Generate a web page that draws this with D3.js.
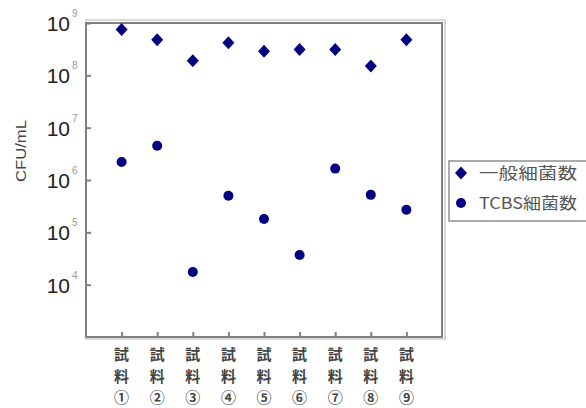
<!DOCTYPE html>
<html><head><meta charset="utf-8">
<script src="https://cdn.jsdelivr.net/npm/d3@7"></script>
<style>body{margin:0;background:#fff}svg{display:block}</style>
</head><body>
<svg id="c" width="586" height="408"></svg>
<script>
const categories = ["①","②","③","④","⑤","⑥","⑦","⑧","⑨"];
const seriesNames = ["一般細菌数","TCBS細菌数"];
const general = [7.5e8,4.8e8,1.9e8,4.2e8,2.9e8,3.1e8,3.1e8,1.5e8,4.8e8];
const tcbs = [2.2e6,4.5e6,1.75e4,5.0e5,1.8e5,3.7e4,1.65e6,5.2e5,2.7e5];
const yTickExp = [4,5,6,7,8,9];

const svg = d3.select("#c");
const L=86, R=442, T=23, B=337;
const navy="#000080", grey="#808080";
const cjk = "'Noto Sans CJK JP','Noto Sans',sans-serif";
const latin = "'Liberation Sans',Arial,sans-serif";

const x = d3.scaleLinear().domain([0,categories.length+1]).range([L,R]);
const y = d3.scaleLog().domain([1e3,1e9]).range([B,T]);

// frame shadow
svg.append("rect").attr("x",L).attr("y",T-3).attr("width",R-L+3).attr("height",B-T+5)
  .attr("fill","none").attr("stroke","#d8d8d8").attr("stroke-width",2);
svg.append("rect").attr("x",L).attr("y",T).attr("width",R-L).attr("height",B-T)
  .attr("fill","#fff").attr("stroke",grey).attr("stroke-width",2);

// y axis ticks (inward)
const yAxis = d3.axisRight(y).tickValues(yTickExp.map(e=>Math.pow(10,e))).tickSize(5).tickFormat("");
const gy = svg.append("g").attr("transform",`translate(${L},0)`).call(yAxis);
gy.select(".domain").remove();
gy.selectAll("line").attr("stroke",grey).attr("stroke-width",2);

// y labels
const yl = svg.append("g");
yTickExp.forEach(e=>{
  yl.append("text").attr("x",70).attr("y",y(Math.pow(10,e))+8)
    .attr("text-anchor","end").attr("font-family",latin)
    .attr("font-size",21).attr("fill","#222").text("10");
  yl.append("text").attr("x",72).attr("y",y(Math.pow(10,e))-6)
    .attr("font-family",latin)
    .attr("font-size",10).attr("fill","#999").text(e);
});

// x axis ticks (inward)
const xAxis = d3.axisTop(x).tickValues(d3.range(1,categories.length+1)).tickSize(5).tickFormat("");
const gx = svg.append("g").attr("transform",`translate(0,${B})`).call(xAxis);
gx.select(".domain").remove();
gx.selectAll("line").attr("stroke",grey).attr("stroke-width",2);

// x labels
categories.forEach((c,i)=>{
  const g = svg.append("g").attr("font-family",cjk).attr("font-size",15).attr("font-weight","bold").attr("fill","#444").attr("text-anchor","middle");
  ["試","料",c].forEach((ch,j)=>{
    g.append("text").attr("x",x(i+1)).attr("y",360+j*21.5).text(ch);
  });
});

// y title
svg.append("text").attr("transform","translate(26,151) rotate(-90)")
  .attr("text-anchor","middle").attr("font-family",latin)
  .attr("font-size",14).attr("fill","#444").attr("textLength",62).attr("lengthAdjust","spacingAndGlyphs").text("CFU/mL");

// markers
const diamondPath = "M0,-6.5L6,0L0,6.5L-6,0Z";
svg.append("g").selectAll("path").data(general).join("path")
  .attr("d",diamondPath).attr("transform",(d,i)=>`translate(${x(i+1)},${y(d)})`)
  .attr("fill",navy);
svg.append("g").selectAll("circle").data(tcbs).join("circle")
  .attr("cx",(d,i)=>x(i+1)).attr("cy",d=>y(d)).attr("r",5).attr("fill",navy);

// legend
const lg = svg.append("g");
lg.append("rect").attr("x",449).attr("y",161).attr("width",150).attr("height",60)
  .attr("fill","#fff").attr("stroke","#aaa").attr("stroke-width",2);
lg.append("path").attr("d",diamondPath).attr("transform","translate(461,173)").attr("fill",navy);
lg.append("circle").attr("cx",461).attr("cy",203).attr("r",5).attr("fill",navy);
seriesNames.forEach((s,i)=>{
  lg.append("text").attr("x",479).attr("y",179+i*30).attr("font-family",cjk).attr("font-size",16)
    .attr("fill","#555").attr("textLength",98).attr("lengthAdjust","spacingAndGlyphs").text(s);
});
</script>
</body></html>
